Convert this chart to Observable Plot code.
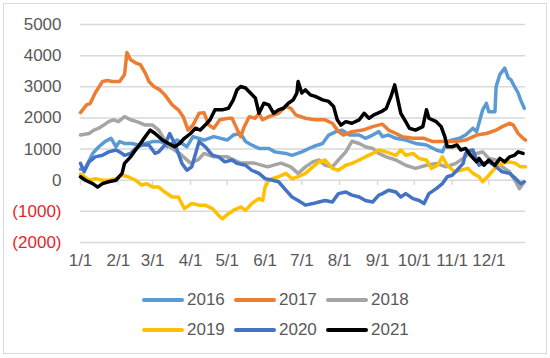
<!DOCTYPE html>
<html>
<head>
<meta charset="utf-8">
<script src="https://cdn.jsdelivr.net/npm/d3@7"></script>
<script src="https://cdn.jsdelivr.net/npm/@observablehq/plot@0.6"></script>
<style>
  body { margin: 0; background: #fff; }
  #wrap { position: relative; width: 550px; height: 358px; overflow: hidden; font-family: "Liberation Sans", Arial, sans-serif; }
  #frame { position: absolute; left: 3px; top: 3px; width: 542px; height: 349px; border: 1.5px solid #d9d9d9; }
  #plot { position: absolute; left: 0; top: 0; }
  .row { position: absolute; left: 0; height: 30px; width: 550px; }
  .item { position: absolute; top: 0; height: 30px; display: flex; align-items: center; }
  .sw { width: 42px; height: 4px; border-radius: 2px; margin-right: 3px; }
  .lab { font-size: 17px; color: #595959; line-height: 30px; }
</style>
</head>
<body>
<div id="wrap">
  <div id="frame"></div>
  <div id="plot"></div>
  <div id="legend"></div>
</div>
<script>
const seriesNames = ["2016", "2017", "2018", "2019", "2020", "2021"];
const seriesColors = ["#5B9BD5", "#ED7D31", "#A5A5A5", "#FFC000", "#4472C4", "#000000"];
const monthTicks = ["1/1","2/1","3/1","4/1","5/1","6/1","7/1","8/1","9/1","10/1","11/1","12/1"];
const yTicks = [-2000, -1000, 0, 1000, 2000, 3000, 4000, 5000];

const s2016 = [["1/1",350],["1/5",390],["1/11",860],["1/16",1075],["1/21",1240],["1/26",1345],["1/30",1075],["2/2",1240],["2/6",1180],["2/12",1180],["2/17",1130],["2/23",1180],["3/1",1240],["3/7",1240],["3/11",1180],["3/13",1075],["3/21",1290],["3/29",1075],["4/3",1400],["4/12",1290],["4/20",1400],["5/1",1290],["5/6",1450],["5/12",1500],["5/16",1240],["5/21",1130],["5/27",1020],["6/4",1020],["6/9",910],["6/18",860],["6/23",800],["7/1",910],["7/10",1075],["7/18",1180],["7/23",1450],["7/29",1560],["8/3",1610],["8/9",1450],["8/17",1450],["8/22",1345],["8/28",1450],["9/2",1560],["9/5",1400],["9/10",1450],["9/16",1345],["9/24",1290],["10/2",1180],["10/11",1130],["10/19",970],["10/24",910],["10/28",1240],["11/1",1290],["11/7",1345],["11/12",1450],["11/18",1670],["11/21",1560],["11/26",2260],["11/29",2470],["12/1",2200],["12/6",2200],["12/7",3010],["12/10",3390],["12/14",3600],["12/17",3280],["12/19",3230],["12/22",3010],["12/25",2800],["12/27",2580],["12/30",2310]];

const s2017 = [["1/1",2170],["1/6",2420],["1/9",2470],["1/13",2800],["1/19",3170],["1/23",3200],["1/27",3170],["2/2",3170],["2/6",3390],["2/8",4100],["2/11",3870],["2/15",3770],["2/19",3710],["2/23",3440],["2/26",3170],["3/2",3010],["3/7",2900],["3/11",2740],["3/17",2420],["3/22",2260],["3/26",2040],["3/30",1610],["4/3",1770],["4/8",2150],["4/12",2170],["4/16",1770],["4/20",1670],["4/25",1940],["5/2",1990],["5/5",1990],["5/10",1560],["5/12",1400],["5/15",1720],["5/19",2040],["5/24",1990],["5/27",2150],["5/30",1940],["6/4",2040],["6/12",2150],["6/18",2370],["6/22",2310],["6/26",2100],["7/4",1990],["7/12",1940],["7/20",1940],["7/26",1830],["7/31",1560],["8/4",1450],["8/11",1560],["8/20",1610],["8/28",1720],["9/5",1800],["9/10",1610],["9/16",1500],["9/21",1400],["9/30",1345],["10/9",1345],["10/16",1240],["10/24",1240],["11/4",1240],["11/12",1290],["11/21",1450],["11/29",1500],["12/7",1610],["12/12",1720],["12/18",1830],["12/21",1770],["12/25",1500],["12/29",1345],["12/31",1290]];

const s2018 = [["1/1",1450],["1/8",1500],["1/12",1610],["1/16",1670],["1/20",1770],["1/24",1880],["1/28",1940],["2/1",1880],["2/6",2040],["2/11",1940],["2/16",1880],["2/23",1770],["3/1",1770],["3/6",1610],["3/10",1345],["3/15",1075],["3/23",860],["4/1",550],["4/7",650],["4/12",860],["4/20",750],["5/1",750],["5/12",550],["5/23",550],["6/3",430],["6/14",550],["6/22",430],["6/28",220],["7/4",430],["7/10",590],["7/15",650],["7/20",480],["7/26",430],["7/31",650],["8/6",910],["8/11",1250],["8/17",1180],["8/22",1075],["8/28",1020],["9/2",860],["9/8",750],["9/16",650],["9/24",480],["10/2",380],["10/11",480],["10/19",540],["10/27",430],["11/4",540],["11/10",700],["11/15",860],["11/21",860],["11/26",910],["12/1",700],["12/7",650],["12/12",430],["12/18",270],["12/23",-50],["12/26",-270],["12/29",-110]];

const s2019 = [["1/1",200],["1/8",0],["1/13",50],["1/19",0],["1/24",0],["1/30",50],["2/4",160],["2/9",110],["2/15",0],["2/20",-160],["2/24",-110],["3/1",-220],["3/6",-220],["3/11",-380],["3/17",-540],["3/22",-540],["3/27",-910],["4/2",-750],["4/8",-800],["4/13",-800],["4/19",-910],["4/24",-1130],["4/27",-1240],["5/2",-1075],["5/6",-970],["5/12",-860],["5/16",-970],["5/21",-750],["5/27",-590],["5/30",-650],["6/1",-220],["6/4",0],["6/7",50],["6/12",110],["6/18",220],["6/23",50],["6/28",110],["7/4",220],["7/10",430],["7/15",590],["7/20",650],["7/26",380],["7/31",320],["8/6",480],["8/11",540],["8/17",650],["8/22",750],["8/28",860],["9/2",970],["9/8",910],["9/16",800],["9/20",970],["9/24",800],["9/30",860],["10/5",700],["10/11",650],["10/15",380],["10/20",480],["10/24",750],["10/28",480],["11/3",270],["11/8",320],["11/14",380],["11/18",220],["11/23",110],["11/26",-50],["12/1",160],["12/7",430],["12/12",540],["12/18",590],["12/23",540],["12/27",430],["12/31",430]];

const s2020 = [["1/1",540],["1/4",270],["1/8",590],["1/13",750],["1/19",800],["1/24",910],["1/30",970],["2/2",910],["2/6",800],["2/11",860],["2/15",1020],["2/20",1130],["2/26",1130],["3/3",860],["3/6",910],["3/11",1130],["3/15",1500],["3/19",1180],["3/25",540],["3/29",320],["4/2",430],["4/8",1240],["4/13",1075],["4/19",800],["4/24",750],["4/29",590],["5/5",650],["5/9",540],["5/16",480],["5/21",320],["5/27",220],["6/1",50],["6/7",0],["6/12",-50],["6/18",-320],["6/23",-540],["6/28",-650],["7/4",-800],["7/10",-750],["7/15",-700],["7/20",-650],["7/26",-700],["7/31",-430],["8/6",-380],["8/11",-480],["8/17",-540],["8/22",-650],["8/28",-700],["9/2",-480],["9/5",-430],["9/10",-320],["9/16",-380],["9/20",-540],["9/24",-430],["9/30",-590],["10/5",-650],["10/9",-750],["10/13",-430],["10/19",-270],["10/24",-110],["10/28",110],["11/1",160],["11/5",320],["11/10",540],["11/12",860],["11/15",950],["11/18",970],["11/21",650],["11/23",480],["11/26",540],["12/1",590],["12/7",430],["12/12",270],["12/18",220],["12/23",50],["12/27",-110],["12/30",-50]];

const s2021 = [["1/1",110],["1/5",0],["1/11",-110],["1/15",-220],["1/19",-110],["1/24",-50],["1/30",0],["2/4",220],["2/6",540],["2/11",750],["2/15",970],["2/19",1180],["2/23",1400],["2/27",1610],["3/3",1500],["3/9",1290],["3/14",1180],["3/19",1075],["3/23",1180],["3/27",1345],["4/1",1500],["4/5",1670],["4/9",1610],["4/13",1770],["4/17",1940],["4/21",2260],["4/27",2260],["5/2",2310],["5/6",2580],["5/9",2900],["5/12",3010],["5/16",2960],["5/20",2800],["5/24",2640],["5/27",2150],["5/31",2470],["6/4",2420],["6/8",2150],["6/12",2260],["6/16",2310],["6/20",2470],["6/24",2580],["6/27",2800],["6/28",3170],["7/1",2800],["7/4",2900],["7/8",2740],["7/12",2690],["7/18",2580],["7/23",2530],["7/27",2370],["7/30",1940],["8/2",1770],["8/6",1880],["8/11",1830],["8/17",1940],["8/21",2150],["8/25",1990],["8/29",2100],["9/4",2200],["9/8",2300],["9/12",2690],["9/15",3060],["9/17",2690],["9/20",2150],["9/24",1880],["9/27",1670],["10/2",1610],["10/8",1720],["10/11",2260],["10/13",1990],["10/19",1880],["10/23",1720],["10/26",1400],["10/28",1075],["11/1",1075],["11/5",1130],["11/8",970],["11/12",1020],["11/16",800],["11/21",590],["11/23",700],["11/27",480],["12/1",650],["12/6",480],["12/10",700],["12/14",590],["12/18",750],["12/22",800],["12/25",910],["12/29",860]];

const allSeries = [s2016, s2017, s2018, s2019, s2020, s2021];
const parse = s => d3.utcParse("%m/%d/%Y")(s + "/2021");
const rows = allSeries.flatMap((arr, i) => arr.map(([d, v]) => ({series: seriesNames[i], date: parse(d), value: v})));
const monthDates = monthTicks.map(parse);

const plot = Plot.plot({
  width: 550,
  height: 280,
  marginLeft: 80,
  marginRight: 25,
  marginTop: 24,
  marginBottom: 38,
  x: {type: "utc", domain: [parse("1/1"), parse("12/31")]},
  y: {domain: [-2000, 5000]},
  color: {domain: seriesNames, range: seriesColors},
  style: {fontFamily: "'Liberation Sans', Arial, sans-serif", fontSize: "17px", color: "#595959", background: "transparent", overflow: "visible"},
  marks: [
    Plot.ruleY(yTicks, {stroke: "#d9d9d9", strokeWidth: 1.5}),
    Plot.ruleX(monthDates, {y1: 0, y2: -170, stroke: "#d9d9d9", strokeWidth: 1.5}),
    Plot.axisY(yTicks.filter(d => d >= 0), {tickSize: 0, tickPadding: 19, fill: "#595959", label: null, tickFormat: d => String(d)}),
    Plot.axisY(yTicks.filter(d => d < 0), {tickSize: 0, tickPadding: 19, fill: "#e3262b", label: null, tickFormat: d => `(${-d})`}),
    Plot.axisX(monthDates, {tickSize: 0, tickPadding: 11, fill: "#595959", label: null, tickFormat: d3.utcFormat("%-m/%-d")}),
    Plot.lineY(rows, {x: "date", y: "value", z: "series", stroke: "series", strokeWidth: 3.5, strokeLinejoin: "round", strokeLinecap: "round"})
  ]
});
document.getElementById("plot").appendChild(plot);

// legend
const legend = document.getElementById("legend");
const rowTops = [285, 315];
seriesNames.forEach((name, i) => {
  const r = Math.floor(i / 3), c = i % 3;
  const item = document.createElement("div");
  item.className = "item";
  item.style.left = (142 + 92 * c) + "px";
  item.style.top = rowTops[r] + "px";
  const sw = document.createElement("span");
  sw.className = "sw";
  sw.style.background = seriesColors[i];
  const lab = document.createElement("span");
  lab.className = "lab";
  lab.textContent = name;
  item.appendChild(sw);
  item.appendChild(lab);
  legend.appendChild(item);
});
</script>
</body>
</html>
